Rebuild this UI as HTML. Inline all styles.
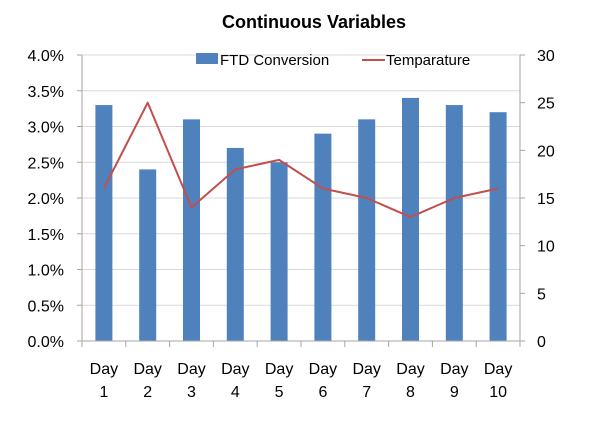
<!DOCTYPE html>
<html><head><meta charset="utf-8"><style>
body{margin:0;background:#fff;}
svg text{font-family:"Liberation Sans",sans-serif;fill:#000;}
</style></head><body>
<svg id="chart" width="600" height="426" viewBox="0 0 600 426" xmlns="http://www.w3.org/2000/svg">
<rect width="600" height="426" fill="#fff"/>
<text x="314" y="28" font-size="18" font-weight="bold" text-anchor="middle">Continuous Variables</text>
<g id="grid"></g><g id="bars"></g><g id="line"></g><g id="axes"></g>
<g>
<rect x="196" y="53" width="22" height="11" fill="#4f81bd"/>
<text x="220" y="65" font-size="15">FTD Conversion</text>
<line x1="362" y1="60" x2="385" y2="60" stroke="#c0504d" stroke-width="2"/>
<text x="386" y="65" font-size="15">Temparature</text>
</g>
</svg>
<script>
const categories=["1","2","3","4","5","6","7","8","9","10"];
const ftdConversion=[3.3,2.4,3.1,2.7,2.5,2.9,3.1,3.4,3.3,3.2];
const temperature=[16,25,14,18,19,16,15,13,15,16];
const leftTicks=[0,0.5,1,1.5,2,2.5,3,3.5,4];
const rightTicks=[0,5,10,15,20,25,30];
const NS="http://www.w3.org/2000/svg";
const L=82,R=520,T=55,B=341;
const bw=(R-L)/categories.length;
const yL=v=>B-(v/4)*(B-T);
const yR=v=>B-(v/30)*(B-T);
const xC=i=>L+bw*(i+0.5);
function mk(tag,attrs,parent){const e=document.createElementNS(NS,tag);for(const k in attrs)e.setAttribute(k,attrs[k]);document.getElementById(parent).appendChild(e);return e;}
leftTicks.forEach(v=>{
 if(v>0){const g=mk('line',{x1:L,x2:R,y1:yL(v),y2:yL(v),stroke:'#d9d9d9','stroke-width':1},'grid');
 
 }
 const t=mk('text',{x:64,y:yL(v)+6,'font-size':16,'text-anchor':'end'},'axes');t.textContent=v.toFixed(1)+'%';
 
 
 mk('line',{x1:L-5,x2:L,y1:yL(v),y2:yL(v),stroke:'#a6a6a6'},'axes');
});
rightTicks.forEach(v=>{
 const t=mk('text',{x:537,y:yR(v)+6,'font-size':16},'axes');t.textContent=v;
 
 
 mk('line',{x1:R,x2:R+5,y1:yR(v),y2:yR(v),stroke:'#a6a6a6'},'axes');
});
mk('line',{x1:L,x2:L,y1:T,y2:B,stroke:'#a6a6a6'},'axes');
mk('line',{x1:R,x2:R,y1:T,y2:B,stroke:'#a6a6a6'},'axes');
mk('line',{x1:L,x2:R,y1:B,y2:B,stroke:'#a6a6a6'},'axes');
for(let i=0;i<=categories.length;i++)mk('line',{x1:L+bw*i,x2:L+bw*i,y1:B,y2:B+6,stroke:'#a6a6a6'},'axes');
categories.forEach((c,i)=>{
 const t1=mk('text',{x:xC(i),y:374,'font-size':16,'text-anchor':'middle'},'axes');t1.textContent='Day';
 
 
 const t2=mk('text',{x:xC(i),y:397,'font-size':16,'text-anchor':'middle'},'axes');t2.textContent=c;
 
 
});
ftdConversion.forEach((v,i)=>{
 const b=mk('rect',{x:xC(i)-8.5,y:yL(v),width:17,height:B-yL(v),fill:'#4f81bd'},'bars');
 
 
});
const pl=mk('polyline',{points:temperature.map((v,i)=>xC(i)+','+yR(v)).join(' '),fill:'none',stroke:'#c0504d','stroke-width':2,'stroke-linejoin':'round'},'line');


</script>
</body></html>
